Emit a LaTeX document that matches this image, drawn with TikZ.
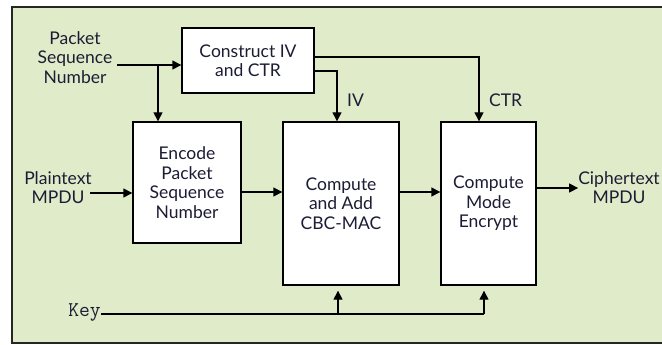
\documentclass[tikz,border=0pt]{standalone}
\usepackage{fontspec}
\setmainfont{Lato}
\usetikzlibrary{arrows.meta}
\definecolor{panel}{RGB}{223,235,201}
\definecolor{ink}{RGB}{28,28,52}

\begin{document}
\begin{tikzpicture}[x=1pt, y=-1pt,
  block/.style={draw=black, line width=1.4pt, fill=white, align=center,
                inner sep=0pt, text=ink, font=\fontsize{17.5}{19.5}\selectfont},
  lab/.style={align=center, inner sep=0pt, text=ink,
              font=\fontsize{17.5}{19.5}\selectfont},
  flow/.style={-{Triangle[length=9pt, width=9pt]}, line width=1.4pt},
  wire/.style={line width=1.4pt}
]
\useasboundingbox (0,0) rectangle (662,345);
\draw[fill=panel, draw=black!85, line width=1.8pt] (12,7) rectangle (680,343);

\node[block, minimum width=132pt, minimum height=65pt] (ctr) at (248,60.5) {Construct IV\\and CTR};
\node[block, minimum width=108pt, minimum height=121pt] (enc) at (187,182.5) {Encode\\Packet\\Sequence\\Number};
\node[block, minimum width=116pt, minimum height=163pt] (mac) at (341,203.5) {Compute\\and Add\\CBC-MAC};
\node[block, minimum width=95pt, minimum height=163pt] (ccm) at (488.5,203.5) {Compute\\Mode\\Encrypt};

\node[lab] (psn) at (75,57.5) {Packet\\Sequence\\Number};
\node[lab] (pt) at (58,187.5) {Plaintext\\MPDU};
\node[lab] (ct) at (619,187.5) {Ciphertext\\MPDU};
\node[lab, anchor=west] (iv) at (347,100) {IV};
\node[lab, anchor=west] (ctrl) at (489,100) {CTR};
\node[anchor=base east, inner sep=0pt, text=ink, font=\ttfamily\fontsize{21}{21}\selectfont]
  (key) at (101,316) {Key};

\coordinate (psnout) at (117,65);
\coordinate (split) at (158,65);
\draw[flow] (psnout) -- (ctr.west |- psnout);
\draw[flow] (split) -- (split |- enc.north);
\draw[flow] (ctr.east |- 0,71) -| ([xshift=-4pt]mac.north);
\draw[flow] (ctr.east |- 0,57) -| ([xshift=-9.5pt]ccm.north);
\draw[flow] ([xshift=-2pt]pt.east |- 0,193) -- (enc.west |- 0,193);
\draw[flow] (enc.east |- 0,192) -- (mac.west |- 0,192);
\draw[flow] (mac.east |- 0,192) -- (ccm.west |- 0,192);
\draw[flow] (ccm.east |- 0,188) -- (ct.west |- 0,188);
\draw[wire] (key.east |- 0,314) -- ([xshift=-4.5pt]ccm.south |- 0,314);
\draw[flow] ([xshift=-3pt]mac.south |- 0,314) -- ([xshift=-3pt, yshift=-5pt]mac.south);
\draw[flow] ([xshift=-4.5pt]ccm.south |- 0,314) -- ([xshift=-4.5pt, yshift=-5pt]ccm.south);
\end{tikzpicture}
\end{document}
